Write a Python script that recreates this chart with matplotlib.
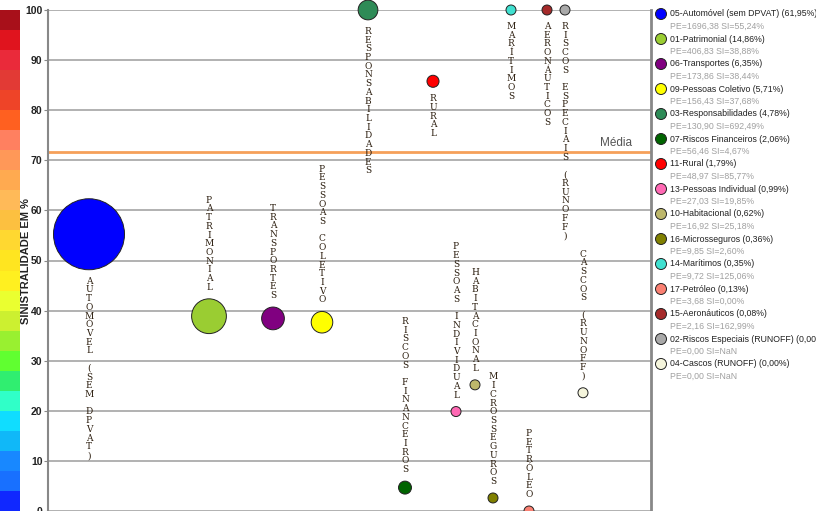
import numpy as np
import matplotlib
matplotlib.use("Agg")
import matplotlib.pyplot as plt

# dados dos ramos
nomes = ["05-Automóvel (sem DPVAT)", "01-Patrimonial", "06-Transportes", "09-Pessoas Coletivo",
         "03-Responsabilidades", "07-Riscos Financeiros", "11-Rural", "13-Pessoas Individual",
         "10-Habitacional", "16-Microsseguros", "14-Marítimos", "17-Petróleo",
         "15-Aeronáuticos", "02-Riscos Especiais (RUNOFF)", "04-Cascos (RUNOFF)"]
rotulos = ["AUTOMÓVEL (SEM DPVAT)", "PATRIMONIAL", "TRANSPORTES", "PESSOAS COLETIVO",
           "RESPONSABILIDADES", "RISCOS FINANCEIROS", "RURAL", "PESSOAS INDIVIDUAL",
           "HABITACIONAL", "MICROSSEGUROS", "MARÍTIMOS", "PETRÓLEO",
           "AERONÁUTICOS", "RISCOS ESPECIAIS (RUNOFF)", "CASCOS (RUNOFF)"]
participacao = ["61,95%", "14,86%", "6,35%", "5,71%", "4,78%", "2,06%", "1,79%", "0,99%",
                "0,62%", "0,36%", "0,35%", "0,13%", "0,08%", "0,00%", "0,00%"]
pe = [1696.38, 406.83, 173.86, 156.43, 130.90, 56.46, 48.97, 27.03,
      16.92, 9.85, 9.72, 3.68, 2.16, 0.00, 0.00]
si_texto = ["55,24%", "38,88%", "38,44%", "37,68%", "692,49%", "4,67%", "85,77%", "19,85%",
            "25,18%", "2,60%", "125,06%", "0,00%", "162,99%", "NaN", "NaN"]
# sinistralidade plotada (limitada a 100)
si_plot = [55.24, 38.88, 38.44, 37.68, 100, 4.67, 85.77, 19.85,
           25.18, 2.60, 100, 0.0, 100, 100, 23.6]
posicao = [41, 161, 225, 274, 320, 357, 385, 408, 427, 445, 463, 481, 499, 517, 535]
cores = ["#0000FF", "#9ACD32", "#800080", "#FFFF00", "#2E8B57", "#006400", "#FF0000", "#FF69B4",
         "#BDB76B", "#808000", "#40E0D0", "#FA8072", "#A52A2A", "#A9A9A9", "#F5F5DC"]
media = 71.7

escala = ["#1028FF", "#1870FF", "#1888FF", "#10B8F8", "#10DDFF", "#30FFC8", "#30EE70", "#60FF30",
          "#99F030", "#CCF030", "#EAFF30", "#FFF020", "#FFE520", "#FFD830", "#FCC040", "#FFBA58",
          "#FFAA50", "#FF9858", "#FF8060", "#FF6020", "#EE4428", "#E23A35", "#EA2A3A", "#E0141E",
          "#A8101A"]

W, H = 816, 511
fig = plt.figure(figsize=(W / 100, H / 100), dpi=100)

# barra de cores
axc = fig.add_axes([0, 0, 20 / W, 501 / H])
passo = 100 / len(escala)
axc.bar(0, [passo] * len(escala), bottom=np.arange(len(escala)) * passo, width=1,
        color=escala, edgecolor="none")
axc.set_xlim(-0.5, 0.5)
axc.set_ylim(0, 100)
axc.axis("off")

# grafico principal
ax = fig.add_axes([48 / W, 0, 603 / W, 501 / H])
ax.set_xlim(0, 603)
ax.set_ylim(0, 100)
ax.set_yticks(range(0, 101, 10))
ax.set_xticks([])
ax.yaxis.grid(True, color="#ababab", lw=1.3)
ax.set_axisbelow(True)
for s in ["top", "bottom"]:
    ax.spines[s].set_visible(False)
ax.spines["left"].set_color("#888888")
ax.spines["left"].set_linewidth(1.5)
ax.spines["right"].set_color("#888888")
ax.spines["right"].set_linewidth(2)
ax.tick_params(axis="y", length=3, color="#888888", pad=1)
for t in ax.get_yticklabels():
    t.set_fontweight("bold")
    t.set_fontsize(7.5)
    t.set_family("Liberation Sans")
    t.set_color("#222222")

ax.axhline(media, color="#F5A05A", lw=2, zorder=1.5)
ax.text(568, media + 0.6, "Média", ha="center", va="bottom", fontsize=8.5,
        color="#555555", family="Liberation Sans")

raio = np.maximum(5, 35.5 * np.sqrt(np.array(pe) / pe[0]))
ax.scatter(posicao, si_plot, s=(2 * raio * 0.72) ** 2, c=cores, edgecolors="#222222",
           linewidths=0.7, zorder=3, clip_on=False)

for x, y, r, lab in zip(posicao, si_plot, raio, rotulos):
    txt = "\n".join(list(lab))
    off = r * 0.72 + 5
    if y > 50:
        ax.annotate(txt, (x, y), xytext=(0, -off), textcoords="offset points", ha="center",
                    va="top", fontsize=6.5, family="DejaVu Serif", color="#2b1d0e",
                    linespacing=0.96, zorder=4)
    else:
        ax.annotate(txt, (x, y), xytext=(0, off), textcoords="offset points", ha="center",
                    va="bottom", fontsize=6.5, family="DejaVu Serif", color="#2b1d0e",
                    linespacing=0.96, zorder=4)

fig.text(26 / W, 1 - 261 / H, "SINISTRALIDADE EM %", rotation=90, ha="center", va="center",
         fontsize=8, fontweight="bold", family="Liberation Sans", color="#222222")

# legenda
axl = fig.add_axes([651 / W, 0, 165 / W, 1])
axl.set_xlim(651, 816)
axl.set_ylim(511, 0)
axl.axis("off")
ly = 14 + 25 * np.arange(len(nomes))
axl.scatter([661] * len(nomes), ly, s=(11 * 0.72) ** 2, c=cores, edgecolors="#222222",
            linewidths=0.7, clip_on=False)
for y, n, p, v, sv in zip(ly, nomes, participacao, pe, si_texto):
    axl.text(670, y, f"{n} ({p})", va="center", ha="left", fontsize=6.3,
             family="Liberation Sans", color="#222222", clip_on=False)
    pe_txt = f"{v:.2f}".replace(".", ",")
    axl.text(670, y + 12.5, f"PE={pe_txt} SI={sv}", va="center", ha="left", fontsize=6.3,
             family="Liberation Sans", color="#a0a0a0", clip_on=False)

fig.savefig("out.png", dpi=100)
